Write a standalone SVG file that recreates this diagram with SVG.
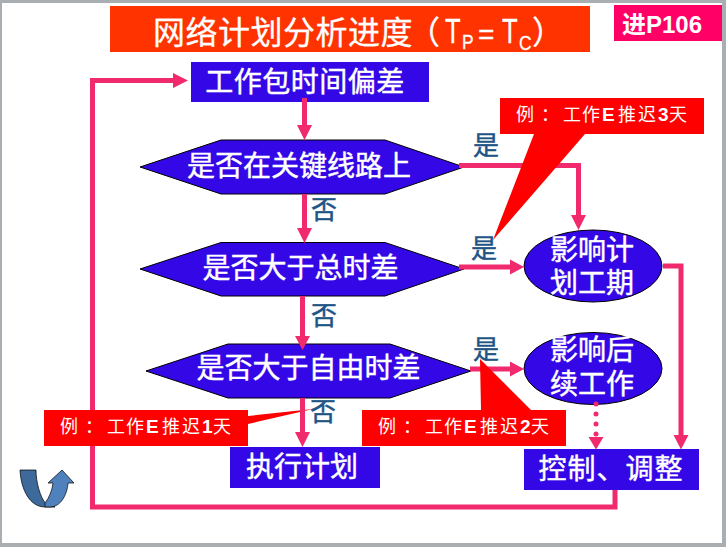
<svg xmlns="http://www.w3.org/2000/svg" width="726" height="547" viewBox="0 0 726 547">
<style>
text{font-family:"Noto Sans CJK SC","Liberation Sans",sans-serif}
.n{fill:#3408E6}
.s{stroke:#000;stroke-width:1}
.t{fill:#fff;stroke:#fff;stroke-width:.45;font-size:28px;text-anchor:middle}
.c{fill:none;stroke:#F02A6C;stroke-width:5}
.h{fill:#F02A6C}
.y{fill:#215486;stroke:#215486;stroke-width:.45;font-size:26px;text-anchor:middle}
.r{fill:#f00}
.e{fill:#fff;font-size:18px}
.e .l{font-family:"Liberation Sans",sans-serif;font-weight:700;font-size:19px}
.L{font-family:"Liberation Sans",sans-serif}
</style>
<rect width="726" height="547" fill="#A9AEB3"/>
<rect x="2" y="3" width="720" height="540" fill="#fff"/>
<g id="title"><rect x="110" y="6" width="480" height="46" fill="#F30"/>
<text x="153" y="44" fill="#fff" stroke="#fff" stroke-width=".3" font-size="32" letter-spacing="0.5">网络计划分析进度<tspan x="408">（</tspan><tspan class="L" x="445" y="43" font-size="35" textLength="16" lengthAdjust="spacingAndGlyphs">T</tspan><tspan class="L" x="462" y="49" font-size="21" textLength="12" lengthAdjust="spacingAndGlyphs">P</tspan><tspan class="L" x="478" y="44" font-size="28">=</tspan><tspan class="L" x="502" y="43" font-size="35" textLength="16" lengthAdjust="spacingAndGlyphs">T</tspan><tspan class="L" x="519" y="50" font-size="21" textLength="13" lengthAdjust="spacingAndGlyphs">C</tspan><tspan x="532" y="44">）</tspan></text></g>
<g id="page-ref"><rect x="614" y="5" width="108" height="36" fill="#F06"/><text x="622" y="33" fill="#fff" font-size="24" font-weight="700">进<tspan class="L">P106</tspan></text></g>
<g id="start"><rect class="n" x="191" y="62" width="238" height="40"/><text class="t" x="305" y="92" letter-spacing="0.5">工作包时间偏差</text></g>
<g id="q1"><polygon class="n s" points="140,167 221,140 385,140 464,167 385,194 221,194"/><text class="t" x="299" y="176">是否在关键线路上</text></g>
<g id="q2"><polygon class="n s" points="140,269 221,242.500 385,242.500 464,269 385,296 221,296"/><text class="t" x="300.500" y="278">是否大于总时差</text></g>
<g id="q3"><polygon class="n s" points="146,371 228,344 390,344 471,371 390,398 228,398"/><text class="t" x="308.500" y="378">是否大于自由时差</text></g>
<g id="e1"><ellipse class="n s" cx="593" cy="266" rx="69" ry="36"/><text class="t" y="260"><tspan x="592">影响计</tspan><tspan x="592" y="293">划工期</tspan></text></g>
<g id="e2"><ellipse class="n s" cx="593" cy="368.500" rx="69" ry="36"/><text class="t" y="360"><tspan x="592">影响后</tspan><tspan x="592" y="394">续工作</tspan></text></g>
<g id="run"><rect class="n" x="230" y="447" width="150" height="41"/><text class="t" x="302" y="477">执行计划</text></g>
<g id="ctrl"><rect class="n" x="524" y="449" width="175" height="41"/><text class="t" x="611" y="479" letter-spacing="1">控制、调整</text></g>
<g id="note1"><path class="r" d="M44 410H248V416L313 409L248 424V446H44Z"/><text class="e" y="433"><tspan x="60">例</tspan><tspan x="85">：</tspan><tspan x="107 126">工作</tspan><tspan class="l" x="146">E</tspan><tspan x="162 182">推迟</tspan><tspan class="l" x="202">1</tspan><tspan x="213">天</tspan></text></g>
<g id="connectors">
<path class="c" d="M304.500 98V127M304.500 194V229M302.500 296V338M302.500 398V434M615 490V507H92.500V446M92.500 410V80.500H175M459 165.500H578.500V217M459 267H512M470 369H512M663 266H681V437"/>
<path d="M596 404V437" fill="none" stroke="#F02A6C" stroke-width="5" stroke-linecap="round" stroke-dasharray="0 10"/>
<path class="h" d="M297 125H312L304.500 140ZM297 228H312L304.500 243ZM295 336H310L302.500 350ZM295 432H310L302.500 447ZM173 73V88L188 80.500ZM571 215H586L578.500 230ZM510 259.500V274.500L524 267ZM510 361.500V376.500L524 369ZM673.500 435H688.500L681 449.500ZM588.500 437H603.500L596 449.500Z"/>
</g>
<g id="note3"><path class="r" d="M500 98H704V134H585L493 240L534 134H500Z"/><text class="e" y="121"><tspan x="516">例</tspan><tspan x="541">：</tspan><tspan x="563 582">工作</tspan><tspan class="l" x="602">E</tspan><tspan x="618 638">推迟</tspan><tspan class="l" x="658">3</tspan><tspan x="669">天</tspan></text></g>
<g id="note2"><path class="r" d="M362 410H481L480 359L531 410H566V446H362Z"/><text class="e" y="433"><tspan x="378">例</tspan><tspan x="403">：</tspan><tspan x="425 444">工作</tspan><tspan class="l" x="464">E</tspan><tspan x="480 500">推迟</tspan><tspan class="l" x="520">2</tspan><tspan x="531">天</tspan></text></g>
<g id="labels"><text class="y" x="486" y="155">是</text><text class="y" x="484" y="258">是</text><text class="y" x="486" y="359">是</text><text class="y" x="324" y="219">否</text><text class="y" x="324" y="325">否</text><text class="y" x="323" y="421">否</text></g>
<g id="u-turn">
<path d="M20 470H36C36 482 40 497 46 504L55 507H45C30 507 21 490 20 470Z" fill="#3D6A9B" stroke="#000" stroke-width="0.700"/>
<path d="M45 503C49 498 52 491 53 483H48L62 470L74 483H68C67 496 60 507 50 507H45Z" fill="#4F81BD" stroke="#000" stroke-width="0.700"/>
</g>
</svg>
